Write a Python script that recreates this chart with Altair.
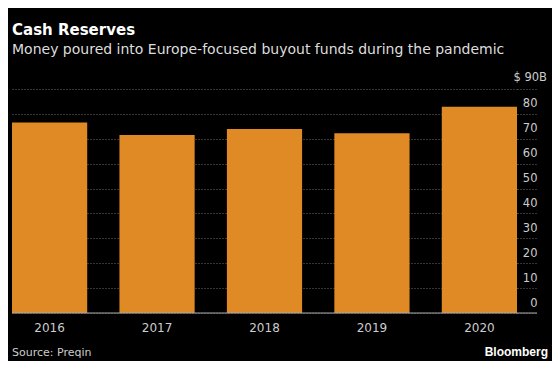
import altair as alt
import pandas as pd

# ---- data ----
years = ["2016", "2017", "2018", "2019", "2020"]
values = [76.5, 71.5, 73.9, 72.2, 82.9]
y_ticks = [0, 10, 20, 30, 40, 50, 60, 70, 80, 90]
title_text = "Cash Reserves"
subtitle_text = "Money poured into Europe-focused buyout funds during the pandemic"
source_text = "Source: Preqin"
brand_text = "Bloomberg"
unit_label = "$ 90B"

df = pd.DataFrame({"year": years, "value": values})

W, H = 505, 224
FONT = "DejaVu Sans"
GRID = "#6a6a6a"

bars = alt.Chart(df).mark_bar(color="#e08a26").encode(
    x=alt.X(
        "year:N", sort=None,
        scale=alt.Scale(paddingInner=0.3, paddingOuter=0),
        axis=alt.Axis(title=None, domain=False, ticks=False, labelAngle=0,
                      labelColor="#cccccc", labelFontSize=12, labelFont=FONT,
                      labelPadding=9, labelBaseline="top"),
    ),
    y=alt.Y(
        "value:Q",
        scale=alt.Scale(domain=[0, 90], nice=False),
        axis=alt.Axis(orient="right", title=None, values=y_ticks,
                      labelExpr="datum.value == 90 ? '' : datum.label",
                      labelOverlap=False, labelFlush=False,
                      grid=True, gridColor=GRID, gridDash=[1, 2],
                      ticks=True, tickSize=20, tickColor=GRID, tickDash=[1, 2],
                      domain=False, labelAlign="right", labelPadding=0,
                      labelBaseline="alphabetic", labelOffset=-7,
                      labelColor="#cccccc", labelFontSize=11.5, labelFont=FONT),
    ),
)

# zero baseline at the bottom edge of the plot, extended under the axis labels
baseline = alt.Chart(pd.DataFrame({"z": [0]})).mark_rule(color="#aaaaaa", strokeWidth=1).encode(
    y=alt.value(H), x=alt.value(0), x2=alt.value(W + 20)
)

unit = alt.Chart(pd.DataFrame({"t": [unit_label]})).mark_text(
    align="right", baseline="alphabetic", color="#cccccc", fontSize=11.5, font=FONT
).encode(text="t:N", x=alt.value(535), y=alt.value(-8))

title = alt.Chart(pd.DataFrame({"t": [title_text]})).mark_text(
    align="left", baseline="alphabetic", color="#ffffff", fontSize=15, fontWeight="bold", font=FONT
).encode(text="t:N", x=alt.value(0), y=alt.value(-54))

subtitle = alt.Chart(pd.DataFrame({"t": [subtitle_text]})).mark_text(
    align="left", baseline="alphabetic", color="#dddddd", fontSize=14, font=FONT
).encode(text="t:N", x=alt.value(0), y=alt.value(-35))

source = alt.Chart(pd.DataFrame({"t": [source_text]})).mark_text(
    align="left", baseline="alphabetic", color="#cccccc", fontSize=11, font=FONT
).encode(text="t:N", x=alt.value(0), y=alt.value(267))

brand = alt.Chart(pd.DataFrame({"t": [brand_text]})).mark_text(
    align="right", baseline="alphabetic", color="#ffffff", fontSize=12, fontWeight="bold",
    font="Liberation Sans"
).encode(text="t:N", x=alt.value(536), y=alt.value(267))

chart = alt.layer(bars, baseline, unit, title, subtitle, source, brand).properties(
    width=W, height=H,
    padding={"left": 4, "top": 81, "right": 35, "bottom": 48},
    autosize=alt.AutoSizeParams(type="none"),
    background="#000000",
).configure_view(stroke=None)

chart.save("out.html", embed_options={"renderer": "svg", "actions": False})
